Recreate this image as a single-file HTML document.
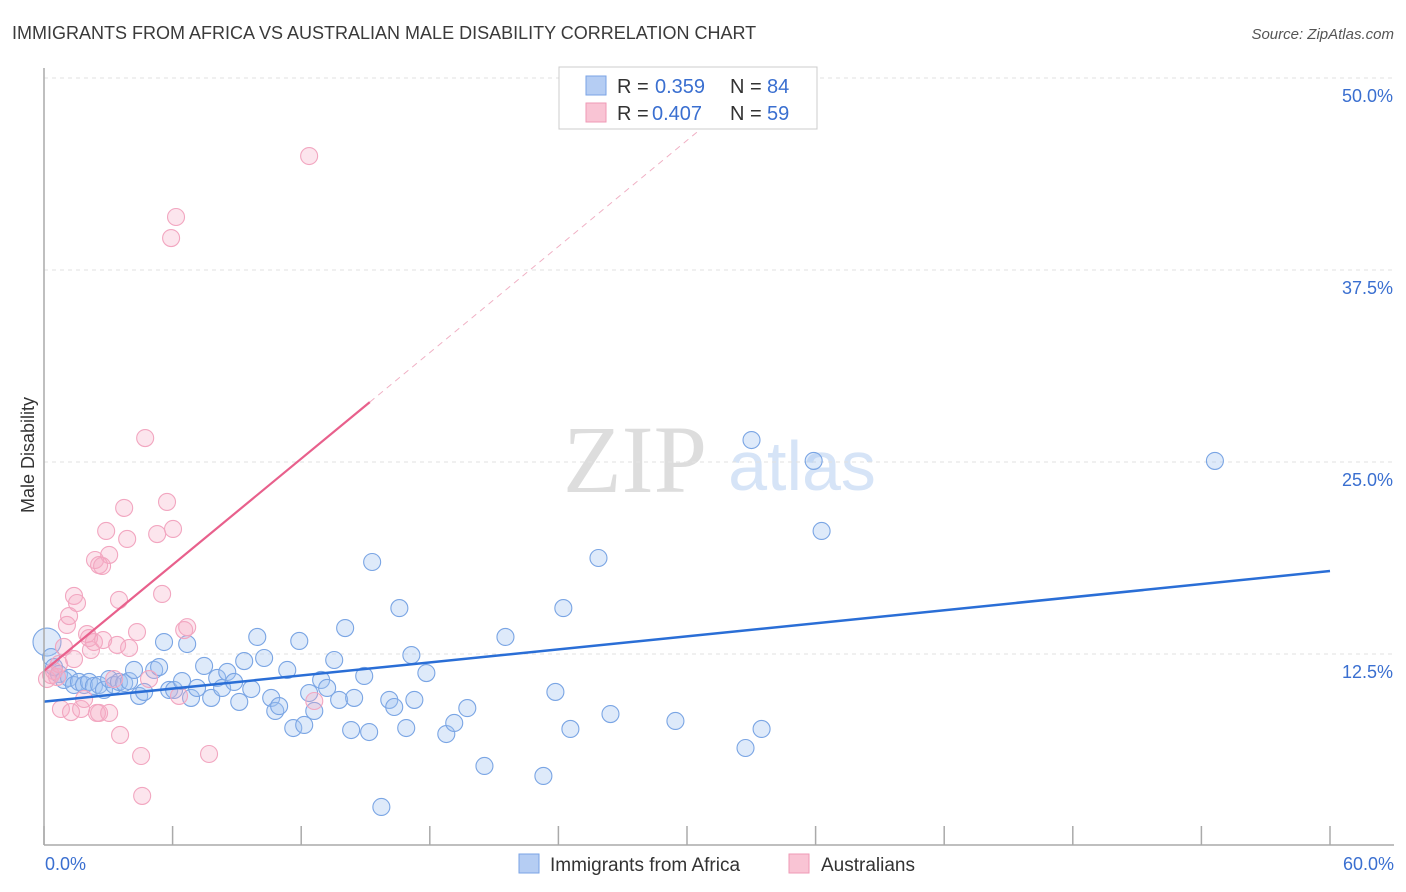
<!DOCTYPE html>
<html><head><meta charset="utf-8"><style>
body{margin:0;background:#fff;font-family:"Liberation Sans",sans-serif}
svg{display:block}
</style></head><body>
<svg id="c" width="1406" height="892" xmlns="http://www.w3.org/2000/svg">
<text x="12" y="39" font-size="18" fill="#3a3a3a">IMMIGRANTS FROM AFRICA VS AUSTRALIAN MALE DISABILITY CORRELATION CHART</text>
<text x="1394" y="39" font-size="15" fill="#555" text-anchor="end" font-style="italic">Source: ZipAtlas.com</text>
<text x="635" y="492" font-size="96" fill="#ddd" font-family="Liberation Serif" text-anchor="middle">ZIP</text>
<text x="802" y="490" font-size="70" fill="#d6e4f7" text-anchor="middle">atlas</text>
<text transform="translate(34,455) rotate(-90)" font-size="18" fill="#333" text-anchor="middle">Male Disability</text>
<g id="grid"></g><g id="pts"></g><g id="lines"></g>
<line x1="44" y1="68" x2="44" y2="845" stroke="#aaa" stroke-width="1.5"/>
<line x1="44" y1="845" x2="1394" y2="845" stroke="#aaa" stroke-width="1.5"/>
<text x="45" y="870" font-size="18" fill="#3a6fd0">0.0%</text>
<text x="1394" y="870" font-size="18" fill="#3a6fd0" text-anchor="end">60.0%</text>
<g>
<rect x="559" y="67" width="258" height="62" fill="#fff" stroke="#ccc"/>
<rect x="586" y="76" width="20" height="19" fill="#b5cdf3" stroke="#7aa3e6"/>
<rect x="586" y="103" width="20" height="19" fill="#f9c4d4" stroke="#ef9ab6"/>
<text x="617" y="93" font-size="20" fill="#333">R =</text><text x="655" y="93" font-size="20" fill="#3a6fd0">0.359</text>
<text x="730" y="93" font-size="20" fill="#333">N =</text><text x="767" y="93" font-size="20" fill="#3a6fd0">84</text>
<text x="617" y="120" font-size="20" fill="#333">R =</text><text x="652" y="120" font-size="20" fill="#3a6fd0">0.407</text>
<text x="730" y="120" font-size="20" fill="#333">N =</text><text x="767" y="120" font-size="20" fill="#3a6fd0">59</text>
</g>
<g>
<rect x="519" y="854" width="20" height="19" fill="#b5cdf3" stroke="#7aa3e6"/>
<text x="550" y="871" font-size="19" fill="#333">Immigrants from Africa</text>
<rect x="789" y="854" width="20" height="19" fill="#f9c4d4" stroke="#ef9ab6"/>
<text x="821" y="871" font-size="19" fill="#333">Australians</text>
</g>
</svg>
<script>
const yTicks=[12.5,25,37.5,50];
const xTicks=[0,6,12,18,24,30,36,42,48,54,60];
const blueX=[0.14,0.33,0.47,0.70,0.93,1.17,1.40,1.63,1.87,2.10,2.33,2.57,2.80,3.04,3.27,3.50,3.74,3.97,4.20,4.44,4.67,5.14,5.37,5.60,5.84,6.07,6.44,6.68,6.86,7.14,7.47,7.80,8.08,8.31,8.55,8.87,9.11,9.34,9.67,9.95,10.27,10.60,10.79,10.97,11.35,11.63,11.91,12.14,12.37,12.61,12.93,13.21,13.54,13.77,14.05,14.33,14.47,14.94,15.17,15.31,15.74,16.11,16.34,16.58,16.90,17.14,17.28,17.84,18.77,19.14,19.75,20.55,21.53,23.30,23.86,24.23,24.56,25.87,26.43,29.46,32.73,33.01,33.48,35.91,36.28,54.63];
const blueY=[13.28,12.30,11.65,11.20,10.81,10.94,10.48,10.68,10.48,10.68,10.42,10.48,10.16,10.87,10.48,10.68,10.61,10.74,11.46,9.77,10.03,11.46,11.65,13.28,10.16,10.16,10.74,13.15,9.64,10.29,11.72,9.64,10.94,10.29,11.33,10.68,9.38,12.04,10.22,13.61,12.24,9.64,8.79,9.11,11.46,7.68,13.35,7.88,9.96,8.79,10.81,10.29,12.11,9.51,14.19,7.55,9.64,11.07,7.42,18.49,2.54,9.51,9.05,15.49,7.68,12.43,9.51,11.26,7.29,8.01,8.98,5.21,13.61,4.56,10.03,15.49,7.62,18.75,8.59,8.14,6.38,26.43,7.62,25.07,20.51,25.07];
const pinkX=[0.14,0.33,0.47,0.61,0.70,0.79,0.93,1.07,1.17,1.26,1.40,1.40,1.54,1.73,1.87,2.01,2.10,2.19,2.33,2.47,2.57,2.76,2.90,3.04,3.04,3.27,3.41,3.50,3.55,3.74,3.88,3.97,4.34,4.53,4.58,4.72,4.90,5.28,5.51,5.74,5.93,6.02,6.16,6.30,6.54,6.68,7.70,12.37,12.61,2.38,2.57,2.71];
const pinkY=[10.87,11.13,11.39,11.00,11.85,8.92,12.96,14.39,14.97,8.72,12.17,16.28,15.82,8.92,9.57,13.80,13.54,12.76,13.28,8.66,8.66,13.41,20.51,18.95,8.66,10.87,13.09,16.02,7.23,22.01,19.99,12.89,13.93,5.86,3.26,26.56,10.87,20.31,16.41,22.40,39.58,20.64,40.95,9.77,14.06,14.25,5.99,44.92,9.44,18.62,18.29,18.23];
const X=v=>44+v/60*1286, Y=v=>846-v/12.5*192;
const NS='http://www.w3.org/2000/svg';
function mk(t,a,p){const e=document.createElementNS(NS,t);for(const k in a)e.setAttribute(k,a[k]);p.appendChild(e);return e;}
const grid=document.getElementById('grid');
yTicks.forEach(t=>{const l=mk('line',{x1:44,x2:1394,y1:Y(t),y2:Y(t),stroke:'#e2e2e2','stroke-dasharray':'4 4'},grid);


const tx=mk('text',{x:1393,y:Y(t)+24,'font-size':18,fill:'#3a6fd0','text-anchor':'end'},grid);tx.textContent=t.toFixed(1)+'%';

});
xTicks.forEach(t=>{const l=mk('line',{x1:X(t),x2:X(t),y1:826,y2:845,stroke:'#aaa','stroke-width':1.5},grid);

});
const pts=document.getElementById('pts');
blueX.forEach((v,i)=>{const c=mk('circle',{cx:X(v),cy:Y(blueY[i]),r:i==0?14:8.5,fill:'rgba(160,195,240,0.35)',stroke:'#7aa5e4','stroke-width':1.1},pts);

});
pinkX.forEach((v,i)=>{const c=mk('circle',{cx:X(v),cy:Y(pinkY[i]),r:8.5,fill:'rgba(245,170,195,0.3)',stroke:'#f2a6c0','stroke-width':1.1},pts);

});
const lines=document.getElementById('lines');
const b0=9.4,b1=(17.9-9.4)/60;
let l=mk('line',{x1:X(0),y1:Y(b0),x2:X(60),y2:Y(b0+60*b1),stroke:'#2a6ed6','stroke-width':2.5},lines);


const p0=11.4,p1=(28.9-11.4)/15.2;
l=mk('line',{x1:X(0),y1:Y(p0),x2:X(15.2),y2:Y(p0+15.2*p1),stroke:'#e8608c','stroke-width':2.2},lines);


l=mk('line',{x1:X(15.2),y1:Y(p0+15.2*p1),x2:X(30.6),y2:Y(p0+30.6*p1),stroke:'#f0b0c4','stroke-width':1,'stroke-dasharray':'6 5'},lines);


</script>
</body></html>
